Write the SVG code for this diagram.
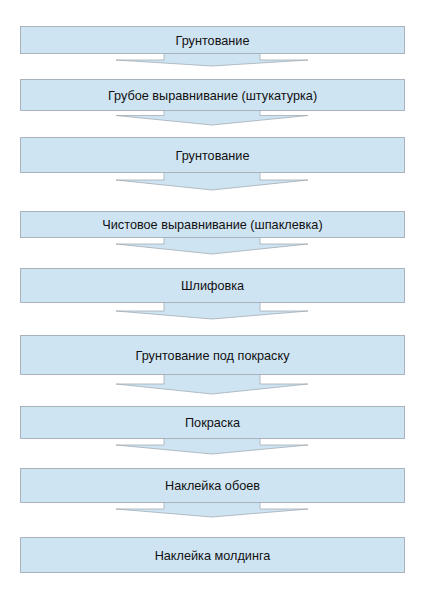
<svg xmlns="http://www.w3.org/2000/svg" width="424" height="600" viewBox="0 0 424 600">
<style>
.box{fill:#cfe4f3;stroke:#aab3bb;stroke-width:1}
.arr{fill:#cfe4f3;stroke:#a3adb6;stroke-width:0.8;stroke-linejoin:miter}
.t{font-family:"Liberation Sans",Arial,sans-serif;font-size:12.7px;fill:#111111;text-anchor:middle}
</style>
<rect width="424" height="600" fill="#ffffff"/>
<g id="connectors">
<path class="arr" d="M164,53.5 V60 H116 L212,66 L308,60 H260 V53.5"/>
<path class="arr" d="M164,110.5 V115.5 H116 L212,125 L308,115.5 H260 V110.5"/>
<path class="arr" d="M164,172.5 V180 H116 L212,190 L308,180 H260 V172.5"/>
<path class="arr" d="M164,237.5 V244 H116 L212,254 L308,244 H260 V237.5"/>
<path class="arr" d="M164,302.5 V311 H116 L212,319 L308,311 H260 V302.5"/>
<path class="arr" d="M164,374.5 V384 H116 L212,394 L308,384 H260 V374.5"/>
<path class="arr" d="M164,438.5 V445 H116 L212,454 L308,445 H260 V438.5"/>
<path class="arr" d="M164,502.5 V509 H116 L212,517 L308,509 H260 V502.5"/>
</g>
<g id="n1"><rect class="box" x="20.5" y="26.5" width="384" height="27"/><text class="t" x="212.5" y="44.5">Грунтование</text></g>
<g id="n2"><rect class="box" x="20.5" y="79.5" width="384" height="31"/><text class="t" x="212.5" y="99.5">Грубое выравнивание (штукатурка)</text></g>
<g id="n3"><rect class="box" x="20.5" y="137.5" width="384" height="35"/><text class="t" x="212.5" y="159.5">Грунтование</text></g>
<g id="n4"><rect class="box" x="20.5" y="211.5" width="384" height="26"/><text class="t" x="212.5" y="229">Чистовое выравнивание (шпаклевка)</text></g>
<g id="n5"><rect class="box" x="20.5" y="268.5" width="384" height="34"/><text class="t" x="212.5" y="290">Шлифовка</text></g>
<g id="n6"><rect class="box" x="20.5" y="335.5" width="384" height="39"/><text class="t" x="212.5" y="359.5">Грунтование под покраску</text></g>
<g id="n7"><rect class="box" x="20.5" y="406.5" width="384" height="32"/><text class="t" x="212.5" y="427">Покраска</text></g>
<g id="n8"><rect class="box" x="20.5" y="468.5" width="384" height="34"/><text class="t" x="212.5" y="489.5">Наклейка обоев</text></g>
<g id="n9"><rect class="box" x="20.5" y="537.5" width="384" height="35"/><text class="t" x="212.5" y="559.5">Наклейка молдинга</text></g>
</svg>
